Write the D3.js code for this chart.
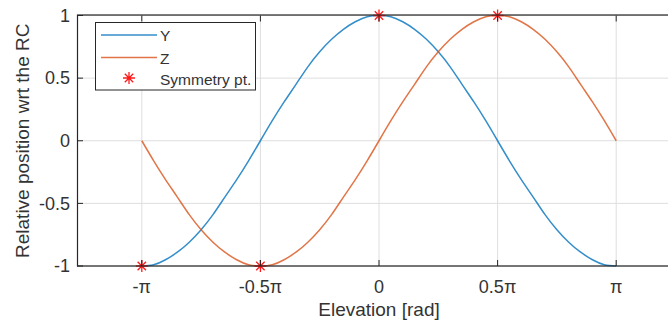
<!DOCTYPE html>
<html>
<head>
<meta charset="utf-8">
<script src="https://cdn.jsdelivr.net/npm/d3@7"></script>
<style>
	body { margin: 0; background: #fff; }
	svg { display: block; font-family: "Liberation Sans", Arial, sans-serif; }
</style>
</head>
<body>
<svg id="chart"></svg>
<script>
// elevation, in multiples of pi
const elevation = [-1, -0.95, -0.9, -0.85, -0.8, -0.75, -0.7, -0.65, -0.6, -0.55, -0.5,
	-0.45, -0.4, -0.35, -0.3, -0.25, -0.2, -0.15, -0.1, -0.05, 0,
	0.05, 0.1, 0.15, 0.2, 0.25, 0.3, 0.35, 0.4, 0.45, 0.5,
	0.55, 0.6, 0.65, 0.7, 0.75, 0.8, 0.85, 0.9, 0.95, 1];
const yValues = [-1, -0.99, -0.95, -0.89, -0.81, -0.71, -0.59, -0.45, -0.31, -0.16, 0,
	0.16, 0.31, 0.45, 0.59, 0.71, 0.81, 0.89, 0.95, 0.99, 1,
	0.99, 0.95, 0.89, 0.81, 0.71, 0.59, 0.45, 0.31, 0.16, 0,
	-0.16, -0.31, -0.45, -0.59, -0.71, -0.81, -0.89, -0.95, -0.99, -1];
const zValues = [0, -0.16, -0.31, -0.45, -0.59, -0.71, -0.81, -0.89, -0.95, -0.99, -1,
	-0.99, -0.95, -0.89, -0.81, -0.71, -0.59, -0.45, -0.31, -0.16, 0,
	0.16, 0.31, 0.45, 0.59, 0.71, 0.81, 0.89, 0.95, 0.99, 1,
	0.99, 0.95, 0.89, 0.81, 0.71, 0.59, 0.45, 0.31, 0.16, 0];
const symX = [-1, -0.5, 0, 0.5];
const symY = [-1, -1, 1, 1];
const xTicks = [-1, -0.5, 0, 0.5, 1];
const xTickLabels = ["-π", "-0.5π", "0", "0.5π", "π"];
const yTicks = [-1, -0.5, 0, 0.5, 1];
const yTickLabels = ["-1", "-0.5", "0", "0.5", "1"];

const W = 668, H = 322;
const ink = "#333";
const grid = "#dedede";
const blue = "#0072BD", orange = "#D95319";

const svg = d3.select("#chart").attr("width", W).attr("height", H);

const x = d3.scaleLinear().domain([-4, 4]).range([77, 681]);
const y = d3.scaleLinear().domain([-1, 1]).range([266, 15.5]);
const [x0, x1] = x.range();
const [y0, y1] = y.range();

// grid
svg.append("g")
	.selectAll("line")
	.data(xTicks)
	.join("line")
	.attr("x1", d => x(d * Math.PI))
	.attr("x2", d => x(d * Math.PI))
	.attr("y1", y0)
	.attr("y2", y1)
	.attr("stroke", grid);

svg.append("g")
	.selectAll("line")
	.data(yTicks)
	.join("line")
	.attr("x1", x0)
	.attr("x2", x1)
	.attr("y1", d => y(d))
	.attr("y2", d => y(d))
	.attr("stroke", grid);

// curves
const line = vals => d3.line()
	.x((d, i) => x(elevation[i] * Math.PI))
	.y(d => y(d))
	.curve(d3.curveNatural)(vals);

svg.append("path")
	.attr("d", line(yValues))
	.attr("fill", "none")
	.attr("stroke", blue)
	.attr("stroke-width", 1.5)
	.attr("stroke-opacity", 0.8);

svg.append("path")
	.attr("d", line(zValues))
	.attr("fill", "none")
	.attr("stroke", orange)
	.attr("stroke-width", 1.5)
	.attr("stroke-opacity", 0.8);

// asterisk marker
const star = (cx, cy, r) => {
	const k = r * 0.7;
	return `M${cx - r},${cy}L${cx + r},${cy}M${cx},${cy - r}L${cx},${cy + r}` +
		`M${cx - k},${cy - k}L${cx + k},${cy + k}M${cx - k},${cy + k}L${cx + k},${cy - k}`;
};

svg.append("g")
	.selectAll("path")
	.data(symX)
	.join("path")
	.attr("d", (d, i) => star(x(d * Math.PI), y(symY[i]), 6))
	.attr("stroke", "#ff1a1a")
	.attr("stroke-width", 1.3);

// axes box
const axisG = svg.append("g").attr("stroke", "#262626").attr("fill", "none");
axisG.append("rect")
	.attr("x", x0 + 0.5)
	.attr("y", y1 - 0.5)
	.attr("width", x1 - x0)
	.attr("height", y0 - y1 + 0.5)
	.attr("stroke-width", 1.2);

const tl = 6;
axisG.selectAll(".xt")
	.data(xTicks)
	.join("path")
	.attr("class", "xt")
	.attr("d", d => {
		const px = x(d * Math.PI);
		return `M${px},${y0}V${y0 - tl}M${px},${y1}V${y1 + tl}`;
	});
axisG.selectAll(".yt")
	.data(yTicks)
	.join("path")
	.attr("class", "yt")
	.attr("d", d => `M${x0},${y(d)}H${x0 + tl}M${x1},${y(d)}H${x1 - tl}`);

// tick labels
svg.append("g")
	.selectAll("text")
	.data(xTicks)
	.join("text")
	.attr("x", d => x(d * Math.PI))
	.attr("y", 293)
	.attr("text-anchor", "middle")
	.attr("fill", ink)
	.style("font-size", "18px")
	.text((d, i) => xTickLabels[i]);

svg.append("g")
	.selectAll("text")
	.data(yTicks)
	.join("text")
	.attr("x", 70)
	.attr("y", d => y(d))
	.attr("dy", "0.35em")
	.attr("text-anchor", "end")
	.attr("fill", ink)
	.style("font-size", "18px")
	.text((d, i) => yTickLabels[i]);

// axis labels
svg.append("text")
	.attr("x", (x0 + x1) / 2)
	.attr("y", 316)
	.attr("text-anchor", "middle")
	.attr("fill", ink)
	.style("font-size", "19px")
	.text("Elevation [rad]");

svg.append("text")
	.attr("transform", `translate(29, ${(y0 + y1) / 2}) rotate(-90)`)
	.attr("text-anchor", "middle")
	.attr("fill", ink)
	.style("font-size", "19px")
	.text("Relative position wrt the RC");

// legend
const leg = svg.append("g");
leg.append("rect")
	.attr("x", 95.5)
	.attr("y", 22.5)
	.attr("width", 160)
	.attr("height", 67.5)
	.attr("fill", "#fff")
	.attr("stroke", "#262626");

const legItems = ["Y", "Z", "Symmetry pt."];
const legY = [35, 57.5, 79];
const legColors = [blue, orange, "#ff1a1a"];

legItems.forEach((name, i) => {
	if (i < 2) {
		leg.append("line")
			.attr("x1", 101)
			.attr("x2", 157)
			.attr("y1", legY[i])
			.attr("y2", legY[i])
			.attr("stroke", legColors[i])
			.attr("stroke-width", 1.5)
			.attr("stroke-opacity", 0.8);
	} else {
		leg.append("path")
			.attr("d", star(129, legY[i] - 1, 6))
			.attr("stroke", legColors[i])
			.attr("stroke-width", 1.3);
	}
	leg.append("text")
		.attr("x", 160)
		.attr("y", legY[i] + 1)
		.attr("dy", "0.35em")
		.attr("fill", ink)
		.style("font-size", "15.5px")
		.text(name);
});
</script>
</body>
</html>
